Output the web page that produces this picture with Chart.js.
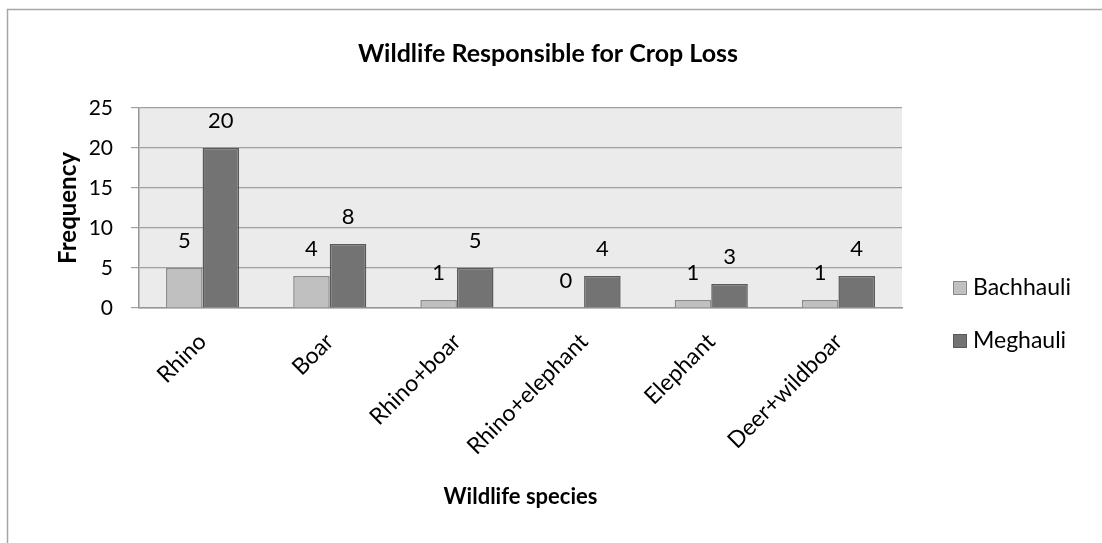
<!DOCTYPE html>
<html><head><meta charset="utf-8">
<script src="https://cdn.jsdelivr.net/npm/chart.js@4"></script>
<style>html,body{margin:0;padding:0;background:#fff}#wrap{width:1102px;height:543px;position:relative}</style>
</head><body><div id="wrap"><canvas id="c" width="1102" height="543"></canvas></div>
<script>
const categories = ['Rhino','Boar','Rhino+boar','Rhino+elephant','Elephant','Deer+wildboar'];
const bachhauli = [5,4,1,0,1,1];
const meghauli = [20,8,5,4,3,4];
const seriesNames = ['Bachhauli','Meghauli'];
const yTickValues = [0,5,10,15,20,25];
const chartTitle = 'Wildlife Responsible for Crop Loss';
const xTitle = 'Wildlife species';
const yTitle = 'Frequency';

const FONT = 'Lato, "Open Sans", sans-serif';

const framePlugin = {
  id: 'frame',
  beforeDraw(chart) {
    const {ctx, chartArea: a} = chart;
    ctx.save();
    ctx.fillStyle = '#fff';
    ctx.fillRect(0, 0, chart.width, chart.height);
    ctx.strokeStyle = '#a6a6a6';
    ctx.lineWidth = 1.5;
    ctx.beginPath();
    ctx.moveTo(7.5, chart.height);
    ctx.lineTo(7.5, 9.5);
    ctx.lineTo(chart.width, 9.5);
    ctx.stroke();
    ctx.fillStyle = '#ebebeb';
    ctx.fillRect(a.left, a.top, a.right - a.left, a.bottom - a.top);
    ctx.restore();
  },
  afterDraw(chart) {
    const {ctx} = chart;
    ctx.save();
    ctx.font = 'bold 25px ' + FONT;
    ctx.fillStyle = '#000';
    ctx.textAlign = 'center';
    ctx.textBaseline = 'alphabetic';
    ctx.fillText(chartTitle, 548, 62);
    ctx.restore();
  }
};

const valueLabels = {
  id: 'valueLabels',
  afterDatasetsDraw(chart) {
    const {ctx} = chart;
    ctx.save();
    ctx.font = '22px ' + FONT;
    ctx.fillStyle = '#000';
    ctx.textAlign = 'center';
    ctx.textBaseline = 'middle';
    chart.data.datasets.forEach((ds, i) => {
      chart.getDatasetMeta(i).data.forEach((bar, j) => {
        ctx.fillText(String(ds.data[j]), bar.x, bar.y - 27);
      });
    });
    ctx.restore();
  }
};

const sideLegend = {
  id: 'sideLegend',
  afterDraw(chart) {
    const {ctx} = chart;
    ctx.save();
    ctx.font = '23px ' + FONT;
    ctx.textBaseline = 'middle';
    ctx.textAlign = 'left';
    const ys = [288, 341];
    chart.data.datasets.forEach((ds, i) => {
      const y = ys[i];
      ctx.fillStyle = ds.backgroundColor;
      ctx.fillRect(953, y - 7, 14, 14);
      ctx.strokeStyle = ds.borderColor;
      ctx.lineWidth = 1;
      ctx.strokeRect(953.5, y - 6.5, 13, 13);
      ctx.fillStyle = '#000';
      ctx.fillText(ds.label, 973, y);
    });
    ctx.restore();
  }
};

new Chart(document.getElementById('c'), {
  type: 'bar',
  data: {
    labels: categories,
    datasets: [
      {label: seriesNames[0], data: bachhauli, backgroundColor: '#c0c0c0', borderColor: '#8a8a8a', borderWidth: 1.5},
      {label: seriesNames[1], data: meghauli, backgroundColor: '#737373', borderColor: '#595959', borderWidth: 1.5}
    ]
  },
  options: {
    responsive: false,
    devicePixelRatio: 1,
    animation: false,
    layout: {padding: {left: 0, right: 200, top: 108, bottom: 0}},
    datasets: {bar: {categoryPercentage: 0.575, barPercentage: 1.0}},
    plugins: {
      legend: {display: false},
      tooltip: {enabled: false},
      title: {display: false}
    },
    scales: {
      x: {
        grid: {display: false, drawTicks: false},
        border: {display: true, color: '#969696', width: 1.5},
        ticks: {color: '#000', font: {family: FONT, size: 23}, maxRotation: 45, minRotation: 45, autoSkip: false, padding: 20},
        title: {display: true, text: xTitle, color: '#000', font: {family: FONT, size: 22, weight: 'bold', lineHeight: 1.2}, padding: {top: 0, bottom: 33}},
        afterFit(scale) { scale.height = 235; }
      },
      y: {
        min: 0, max: 25,
        afterBuildTicks(scale) { scale.ticks = yTickValues.map(v => ({value: v})); },
        grid: {color: '#a0a0a0', lineWidth: 1.2, tickLength: 8, drawTicks: true},
        border: {display: true, color: '#969696', width: 1.5},
        ticks: {color: '#000', font: {family: FONT, size: 21}, padding: 18},
        title: {display: true, text: yTitle, color: '#000', font: {family: FONT, size: 24, weight: 'bold', lineHeight: 1.2}, padding: {top: 54, bottom: 0}},
        afterFit(scale) { scale.width = 139; }
      }
    }
  },
  plugins: [framePlugin, valueLabels, sideLegend]
});
</script>
</body></html>
